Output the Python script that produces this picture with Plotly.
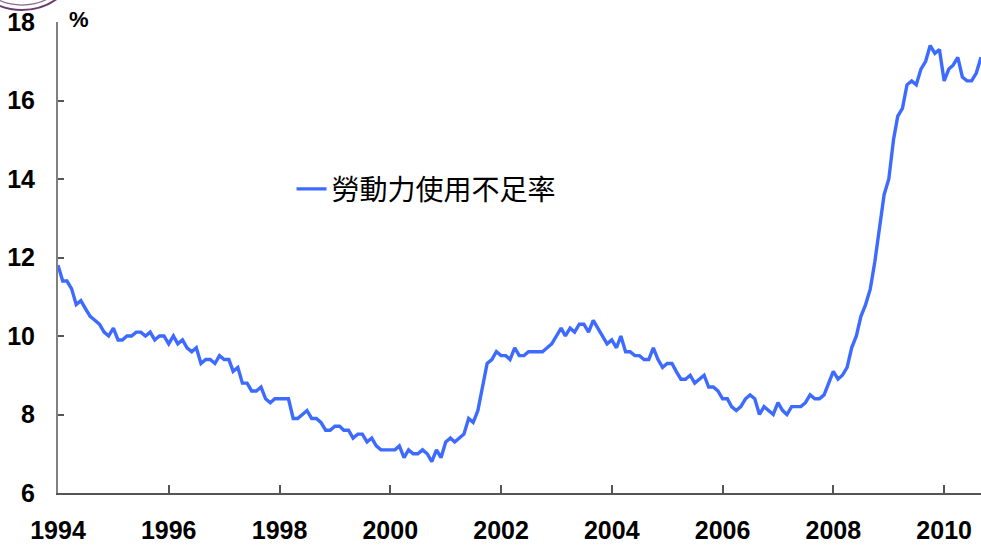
import plotly.graph_objects as go
import pandas as pd

start = "1994-01-01"
values = [
    # 1994
    11.8, 11.4, 11.4, 11.2, 10.8, 10.9, 10.7, 10.5, 10.4, 10.3, 10.1, 10.0,
    # 1995
    10.2, 9.9, 9.9, 10.0, 10.0, 10.1, 10.1, 10.0, 10.1, 9.9, 10.0, 10.0,
    # 1996
    9.8, 10.0, 9.8, 9.9, 9.7, 9.6, 9.7, 9.3, 9.4, 9.4, 9.3, 9.5,
    # 1997
    9.4, 9.4, 9.1, 9.2, 8.8, 8.8, 8.6, 8.6, 8.7, 8.4, 8.3, 8.4,
    # 1998
    8.4, 8.4, 8.4, 7.9, 7.9, 8.0, 8.1, 7.9, 7.9, 7.8, 7.6, 7.6,
    # 1999
    7.7, 7.7, 7.6, 7.6, 7.4, 7.5, 7.5, 7.3, 7.4, 7.2, 7.1, 7.1,
    # 2000
    7.1, 7.1, 7.2, 6.9, 7.1, 7.0, 7.0, 7.1, 7.0, 6.8, 7.1, 6.9,
    # 2001
    7.3, 7.4, 7.3, 7.4, 7.5, 7.9, 7.8, 8.1, 8.7, 9.3, 9.4, 9.6,
    # 2002
    9.5, 9.5, 9.4, 9.7, 9.5, 9.5, 9.6, 9.6, 9.6, 9.6, 9.7, 9.8,
    # 2003
    10.0, 10.2, 10.0, 10.2, 10.1, 10.3, 10.3, 10.1, 10.4, 10.2, 10.0, 9.8,
    # 2004
    9.9, 9.7, 10.0, 9.6, 9.6, 9.5, 9.5, 9.4, 9.4, 9.7, 9.4, 9.2,
    # 2005
    9.3, 9.3, 9.1, 8.9, 8.9, 9.0, 8.8, 8.9, 9.0, 8.7, 8.7, 8.6,
    # 2006
    8.4, 8.4, 8.2, 8.1, 8.2, 8.4, 8.5, 8.4, 8.0, 8.2, 8.1, 8.0,
    # 2007
    8.3, 8.1, 8.0, 8.2, 8.2, 8.2, 8.3, 8.5, 8.4, 8.4, 8.5, 8.8,
    # 2008
    9.1, 8.9, 9.0, 9.2, 9.7, 10.0, 10.5, 10.8, 11.2, 11.9, 12.7, 13.6,
    # 2009
    14.0, 15.0, 15.6, 15.8, 16.4, 16.5, 16.4, 16.8, 17.0, 17.4, 17.2, 17.3,
    # 2010
    16.5, 16.8, 16.9, 17.1, 16.6, 16.5, 16.5, 16.7, 17.1,
]
dates = pd.date_range(start, periods=len(values), freq="MS")

series_name = "勞動力使用不足率"
tick_years = ["1994", "1996", "1998", "2000", "2002", "2004", "2006", "2008", "2010"]
y_ticks = [6, 8, 10, 12, 14, 16, 18]

fig = go.Figure()
fig.add_trace(go.Scatter(
    x=dates, y=values, mode="lines", name=series_name,
    line=dict(color="#3D6BFF", width=3.4),
))

tick_font = dict(family="Liberation Sans, Arial", size=25, color="#000000")

fig.update_layout(
    width=981, height=547,
    margin=dict(l=58, r=0, t=22, b=54),
    paper_bgcolor="white", plot_bgcolor="white",
    showlegend=True,
    legend=dict(
        x=0.253, y=0.645, xanchor="left", yanchor="middle",
        font=dict(family="Noto Sans CJK TC", size=28, color="#000000"),
        bgcolor="rgba(0,0,0,0)", itemwidth=30,
    ),
    xaxis=dict(
        range=["1994-01-01", "2010-09-01"],
        tickvals=[f"{y}-01-01" for y in tick_years],
        ticktext=[f"<b>{y}</b>" for y in tick_years],
        ticks="inside", ticklen=8, tickcolor="#555555", tickwidth=1.5,
        showline=True, linecolor="#555555", linewidth=1.5,
        showgrid=False, zeroline=False, automargin=False,
        tickfont=tick_font, ticklabelstandoff=14,
    ),
    yaxis=dict(
        range=[6, 18],
        tickvals=y_ticks,
        ticktext=[f"<b>{v}</b>" for v in y_ticks],
        ticks="inside", ticklen=6, tickcolor="#555555", tickwidth=1.5,
        showline=True, linecolor="#808080", linewidth=2,
        showgrid=False, zeroline=False, automargin=False,
        tickfont=tick_font, ticklabelstandoff=16,
    ),
)

fig.add_annotation(
    text="<b>%</b>", xref="paper", yref="paper", x=0.01, y=1.0,
    xanchor="left", yanchor="middle", showarrow=False,
    font=dict(family="Liberation Sans, Arial", size=22, color="#000000"),
    yshift=3,
)

# decorative logo arc at top-left corner (double purple ring)
fig.add_shape(type="circle", xref="paper", yref="paper",
              x0=-0.104, x1=0.026, y0=1.0255, y1=1.2803,
              line=dict(color="#6B3A6E", width=2))
fig.add_shape(type="circle", xref="paper", yref="paper",
              x0=-0.0986, x1=0.0206, y0=1.036, y1=1.2696,
              line=dict(color="#8A6A8C", width=1.3))

fig.write_html("out.html", config={"displayModeBar": False},
               post_script="document.body.style.margin='0';")
